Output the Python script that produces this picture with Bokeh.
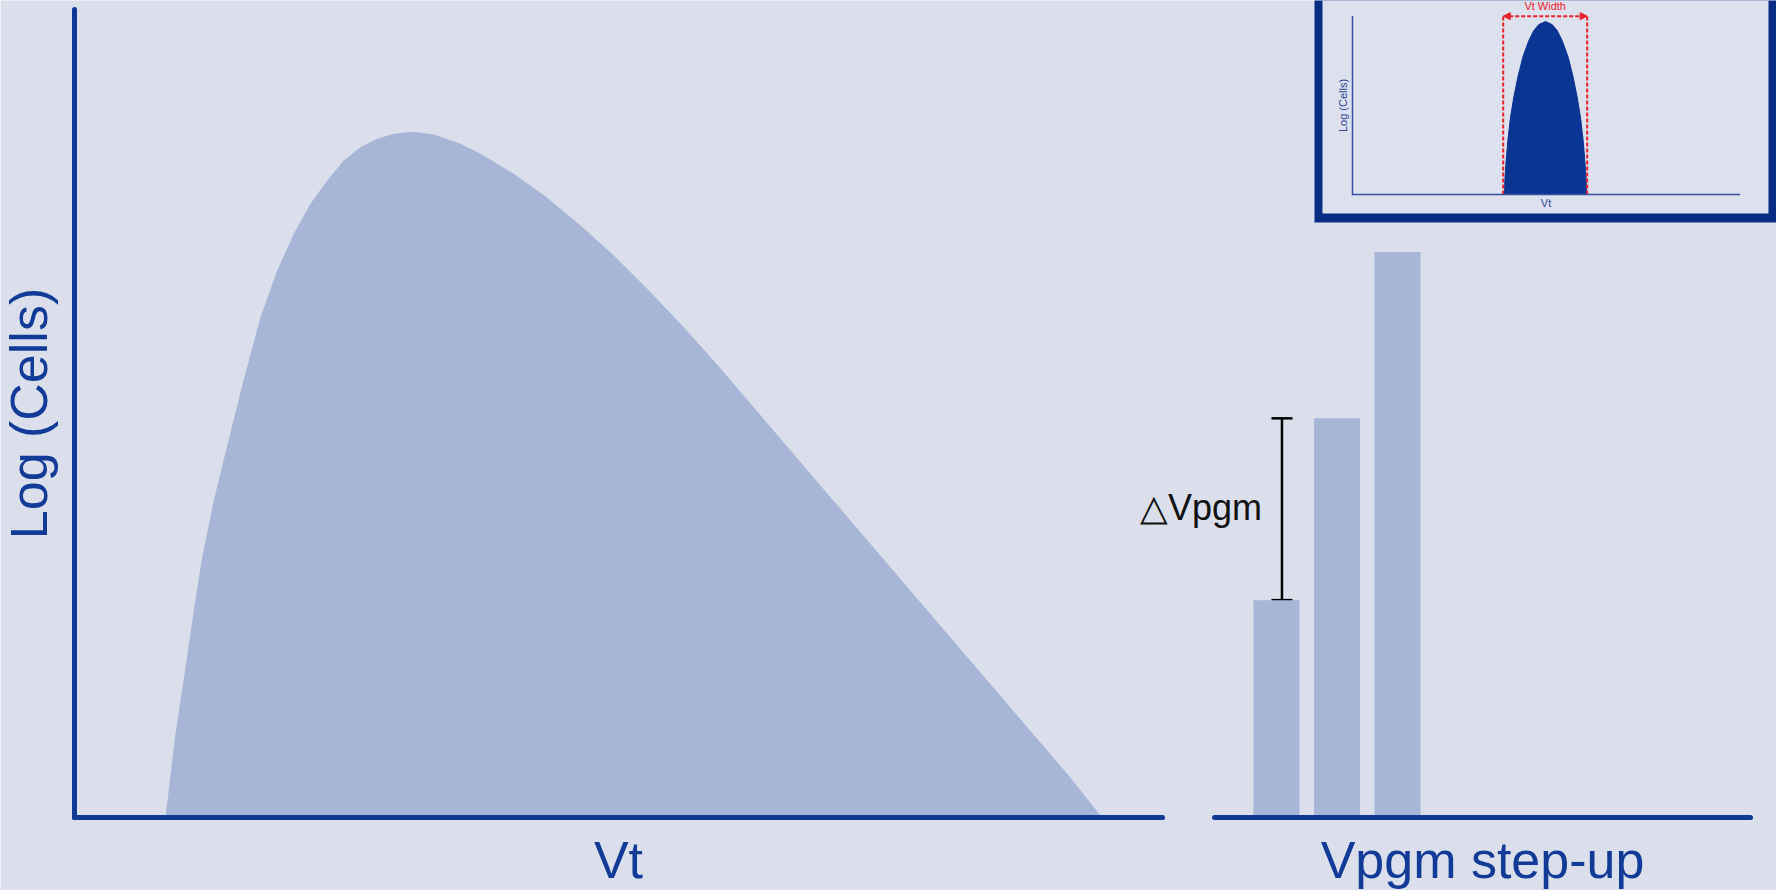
from bokeh.plotting import figure
from bokeh.models import (Range1d, LinearAxis, FixedTicker, Whisker, TeeHead,
                          ColumnDataSource, Arrow, NormalHead)
from bokeh.core.properties import value
from bokeh.embed import file_html
from bokeh.resources import INLINE

# ---------------- data ----------------
# main distribution: Vt (arbitrary units) vs log(cells)
vt = [8.364, 9.283, 10.202, 10.965, 11.737, 12.803, 14.035, 15.561, 17.096,
      18.631, 20.156, 21.691, 23.226, 24.752, 26.287, 27.822, 29.347, 31.039,
      33.024, 35.478, 37.316, 40.377, 43.447, 46.507, 49.568, 52.638, 55.699,
      58.741, 62.132, 65.809, 69.485, 73.162, 76.838, 80.515, 84.191, 87.868,
      91.544, 94.439]
log_cells = [0.0, 1.036, 1.860, 2.562, 3.222, 3.923, 4.600, 5.425, 6.192,
             6.770, 7.224, 7.595, 7.884, 8.131, 8.296, 8.400, 8.462, 8.487,
             8.453, 8.338, 8.214, 7.967, 7.670, 7.327, 6.955, 6.543, 6.110,
             5.656, 5.124, 4.542, 3.964, 3.385, 2.807, 2.228, 1.650, 1.070,
             0.493, 0.0]

# Vpgm step-up bars
steps = [1, 2, 3]
step_cells = [2.69, 4.94, 7.00]

# inset: narrow distribution
inset_vt = [34.08, 34.16, 34.45, 34.83, 35.43, 36.17, 37.07, 38.19, 39.54,
            40.66, 41.78, 43.27, 44.77, 45.89, 47.01, 48.36, 49.48, 50.37,
            51.12, 51.72, 52.09, 52.39, 52.47]
inset_cells = [0.0, 0.68, 1.66, 2.63, 3.77, 4.75, 5.72, 6.70, 7.51,
               8.00, 8.29, 8.44, 8.29, 8.00, 7.51, 6.70, 5.72, 4.75,
               3.77, 2.63, 1.66, 0.68, 0.0]
vt_width = [33.79, 52.62]
vt_width_top = 8.70
inset_x_extent = 86.8
inset_y_extent = 8.68

# texts
main_ylabel = "Log (Cells)"
main_xlabel = "Vt"
bar_xlabel = "Vpgm step-up"
delta_label = "\u25b3Vpgm"
width_label = "Vt Width"

# ---------------- styles ----------------
BG = "#dadfeb"
AREA = "#a7b5d6"
AXIS = "#0e3a96"
LABEL = "#123b98"
INSET_BORDER = "#0a2d84"
INSET_PANEL = "#dde1ee"
INSET_FILL = "#0b3593"
INSET_AXIS = "#3550a2"
INSET_TEXT = "#2c4496"
RED = "#e8202a"
FONT = "Liberation Sans"

W, H = 1776, 890
p = figure(width=W, height=H,
           x_range=Range1d(-6.80, 156.43), y_range=Range1d(-0.9035, 10.111),
           output_backend="svg", toolbar_location=None,
           x_axis_location=None, y_axis_location=None,
           min_border_left=0, min_border_right=0,
           min_border_top=0, min_border_bottom=0,
           background_fill_color=BG, border_fill_color=BG,
           outline_line_color=None)
p.grid.visible = False
p.extra_x_ranges = {"steps": Range1d(-20.091, 9.264),
                    "inset_x": Range1d(-303.14, 95.07)}
p.extra_y_ranges = {"inset_y": Range1d(-33.95, 9.463)}


def style_axis(ax, size, color, lw, standoff, label_color):
    ax.ticker = FixedTicker(ticks=[])
    ax.major_tick_line_color = None
    ax.minor_tick_line_color = None
    ax.major_tick_out = 0
    ax.minor_tick_out = 0
    ax.major_tick_in = 0
    ax.minor_tick_in = 0
    ax.major_label_text_font_size = "0px"
    ax.major_label_standoff = 0
    ax.axis_line_color = color
    ax.axis_line_width = lw
    ax.axis_line_cap = "round"
    ax.axis_label_text_font = FONT
    ax.axis_label_text_font_size = size
    ax.axis_label_text_font_style = "normal"
    ax.axis_label_text_color = label_color
    ax.axis_label_standoff = standoff


# main distribution
p.varea(x=vt, y1=0, y2=log_cells, fill_color=AREA)

# bars
p.vbar(x=steps, top=step_cells, width=0.76, x_range_name="steps",
       fill_color=AREA, line_color=None)

# delta Vpgm whisker between first two steps
delta_x = steps[0] + 0.09
wsrc = ColumnDataSource(dict(base=[delta_x], lower=[step_cells[0]], upper=[step_cells[1]]))
p.add_layout(Whisker(source=wsrc, base="base", lower="lower", upper="upper",
                     dimension="height", x_range_name="steps",
                     line_color="black", line_width=2.5,
                     upper_head=TeeHead(size=21, line_color="black", line_width=2.5),
                     lower_head=TeeHead(size=21, line_color="black", line_width=2.5)))
p.text(x=[delta_x], y=[(step_cells[0] + step_cells[1]) / 2], text=[delta_label],
       x_range_name="steps", text_align="right", text_baseline="alphabetic",
       x_offset=-20, y_offset=-2, text_font=value(FONT),
       text_font_size="36px", text_color="#111111")

# inset box
p.quad(left=[-8.52], right=[200], bottom=[-1.366], top=[50],
       x_range_name="inset_x", y_range_name="inset_y",
       fill_color=INSET_BORDER, line_color=None)
p.quad(left=[-6.73], right=[93.27], bottom=[-0.927], top=[50],
       x_range_name="inset_x", y_range_name="inset_y",
       fill_color=INSET_PANEL, line_color=None)
p.patch(x=inset_vt, y=inset_cells, x_range_name="inset_x", y_range_name="inset_y",
        fill_color=INSET_FILL, line_color=INSET_FILL, line_width=1)
p.segment(x0=vt_width, y0=[0, 0], x1=vt_width, y1=[vt_width_top, vt_width_top],
          x_range_name="inset_x", y_range_name="inset_y",
          line_color=RED, line_width=2, line_dash="4 2")
p.add_layout(Arrow(x_start=vt_width[0], y_start=vt_width_top,
                   x_end=vt_width[1], y_end=vt_width_top,
                   x_range_name="inset_x", y_range_name="inset_y",
                   line_color=RED, line_width=2, line_dash="4 2",
                   start=NormalHead(size=7, fill_color=RED, line_color=RED, line_width=1),
                   end=NormalHead(size=7, fill_color=RED, line_color=RED, line_width=1)))
p.text(x=[(vt_width[0] + vt_width[1]) / 2], y=[vt_width_top], text=[width_label],
       x_range_name="inset_x", y_range_name="inset_y",
       text_align="center", text_baseline="alphabetic", y_offset=-10,
       text_font=value(FONT), text_font_size="11px", text_color=RED)

# axes
yax = LinearAxis(axis_label=main_ylabel, bounds=(0, 10.0), fixed_location=0)
style_axis(yax, "52px", AXIS, 5, 17, LABEL)
p.add_layout(yax, "left")

xax = LinearAxis(axis_label=main_xlabel, bounds=(0, 100), fixed_location=0)
style_axis(xax, "52px", AXIS, 5, 13, LABEL)
p.add_layout(xax, "below")

bax = LinearAxis(axis_label=bar_xlabel, x_range_name="steps",
                 bounds=(-0.025, 8.835), fixed_location=0)
style_axis(bax, "52px", AXIS, 5, 13, LABEL)
p.add_layout(bax, "below")

iyax = LinearAxis(axis_label=main_ylabel, x_range_name="inset_x", y_range_name="inset_y",
                  bounds=(0, inset_y_extent), fixed_location=0)
style_axis(iyax, "11px", INSET_AXIS, 1.5, 4, INSET_TEXT)
p.add_layout(iyax, "left")

ixax = LinearAxis(axis_label=main_xlabel, x_range_name="inset_x", y_range_name="inset_y",
                  bounds=(0, inset_x_extent), fixed_location=0)
style_axis(ixax, "11px", INSET_AXIS, 1.5, 2, INSET_TEXT)
p.add_layout(ixax, "below")

open("out.html", "w").write(file_html(p, INLINE))
